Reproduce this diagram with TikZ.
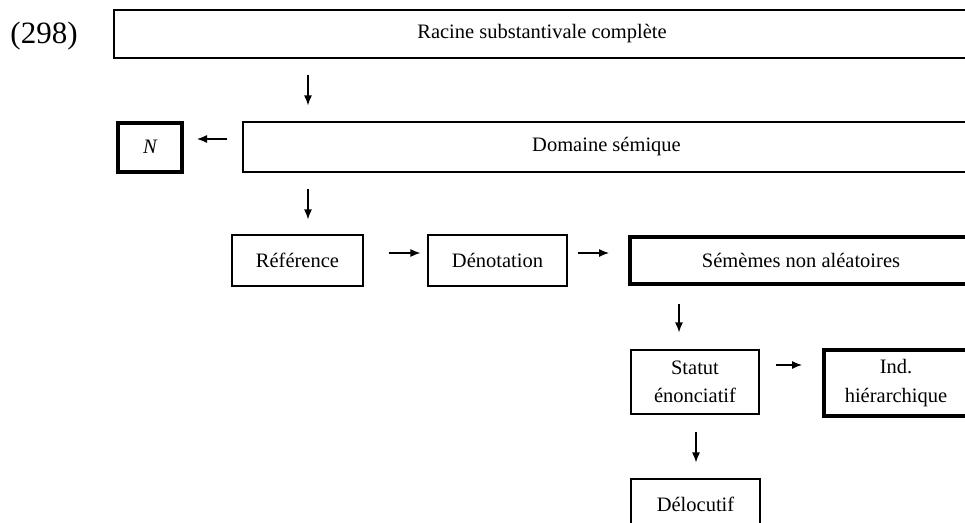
\documentclass[tikz,border=0pt]{standalone}
\usepackage{fontspec}
\setmainfont{Liberation Serif}
\usetikzlibrary{arrows.meta}

\begin{document}
\begin{tikzpicture}[x=1pt,y=-1pt,>={Latex[length=10pt,width=8pt]},
  box/.style={draw, rectangle, inner sep=0pt, line width=1.2pt, align=center, font=\fontsize{20.5}{28.5}\selectfont},
  boldbox/.style={box, line width=4pt},
  link/.style={->, line width=1.2pt}]
\clip (0,0) rectangle (965,522);
\node[font=\fontsize{31}{36}\selectfont] (num) at (44,36) {(298)};

\node[box, minimum width=856pt, minimum height=48pt] (racine) at (542,34) {Racine substantivale complète};
\node[boldbox, minimum width=64pt, minimum height=49pt] (N) at (150,147) {\itshape N};
\node[box, minimum width=727pt, minimum height=50pt] (domaine) at (606.5,147) {Domaine sémique};
\node[box, minimum width=131pt, minimum height=51pt] (ref) at (297.5,260.5) {Référence};
\node[box, minimum width=139pt, minimum height=51pt] (deno) at (497.5,260.5) {Dénotation};
\node[boldbox, minimum width=342pt, minimum height=47pt] (sem) at (801,260.5) {Sémèmes non aléatoires};
\node[box, minimum width=128pt, minimum height=64pt] (statut) at (695,382) {Statut\\énonciatif};
\node[boldbox, minimum width=144pt, minimum height=66pt] (ind) at (896,383) {Ind.\\hiérarchique};
\node[box, minimum width=129pt, minimum height=51pt] (delo) at (695.5,504.5) {Délocutif};

% columns and rows of the arrows
\coordinate (c1) at (308,0);
\coordinate (c2) at (679,0);
\coordinate (c3) at (696,0);
\coordinate (r1) at (0,139);
\coordinate (r2) at (0,253);
\coordinate (r3) at (0,365);

\draw[link, shorten <=16pt, shorten >=16pt] (racine.south -| c1) -- (domaine.north -| c1);
\draw[link, shorten <=15pt, shorten >=13pt] (domaine.west |- r1) -- (N.east |- r1);
\draw[link, shorten <=16pt, shorten >=15pt] (domaine.south -| c1) -- (ref.north -| c1);
\draw[link, shorten <=25pt, shorten >=7pt] (ref.east |- r2) -- (deno.west |- r2);
\draw[link, shorten <=10pt, shorten >=19pt] (deno.east |- r2) -- (sem.west |- r2);
\draw[link, shorten <=18pt, shorten >=17pt] (sem.south -| c2) -- (statut.north -| c2);
\draw[link, shorten <=16pt, shorten >=20pt] (statut.east |- r3) -- (ind.west |- r3);
\draw[link, shorten <=17pt, shorten >=16pt] (statut.south -| c3) -- (delo.north -| c3);
\end{tikzpicture}
\end{document}
